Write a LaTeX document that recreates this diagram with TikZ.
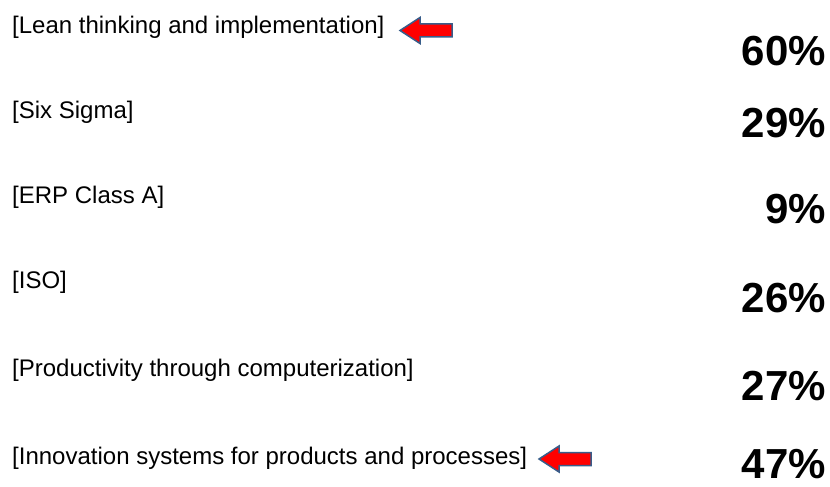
\documentclass[tikz,border=0pt]{standalone}
\usepackage{fontspec}
\setmainfont{Liberation Sans}
\begin{document}
\begin{tikzpicture}[x=1pt,y=-1pt,
  lbl/.style={anchor=west,inner sep=0pt,font=\fontsize{24}{28}\selectfont},
  pct/.style={anchor=east,inner sep=0pt,font=\fontsize{42}{48}\selectfont\bfseries},
  marker/.style={fill=red,draw={rgb,255:red,56;green,93;blue,138},line width=1.5pt,line join=miter}]
\useasboundingbox (0,0) rectangle (830,487);
% row labels
\node[lbl] (l1) at (12,27)  {[Lean thinking and implementation]};
\node[lbl] (l2) at (12,112) {[Six Sigma]};
\node[lbl] (l3) at (12,197) {[ERP Class A]};
\node[lbl] (l4) at (12,282) {[ISO]};
\node[lbl] (l5) at (12,370) {[Productivity through computerization]};
\node[lbl] (l6) at (12,458) {[Innovation systems for products and processes]};
% percentages
\node[pct] (p1) at (826,51)  {60\%};
\node[pct] (p2) at (826,123) {29\%};
\node[pct] (p3) at (826,209) {9\%};
\node[pct] (p4) at (826,298) {26\%};
\node[pct] (p5) at (826,386) {27\%};
\node[pct] (p6) at (826,464) {47\%};
% left-pointing block arrows
\foreach \x/\y in {400/30.5, 539/459}{
  \draw[marker] (\x,\y) -- ++(20,-13) -- ++(0,6.5) -- ++(32,0) -- ++(0,13)
    -- ++(-32,0) -- ++(0,6.5) -- cycle;
}
\end{tikzpicture}
\end{document}
